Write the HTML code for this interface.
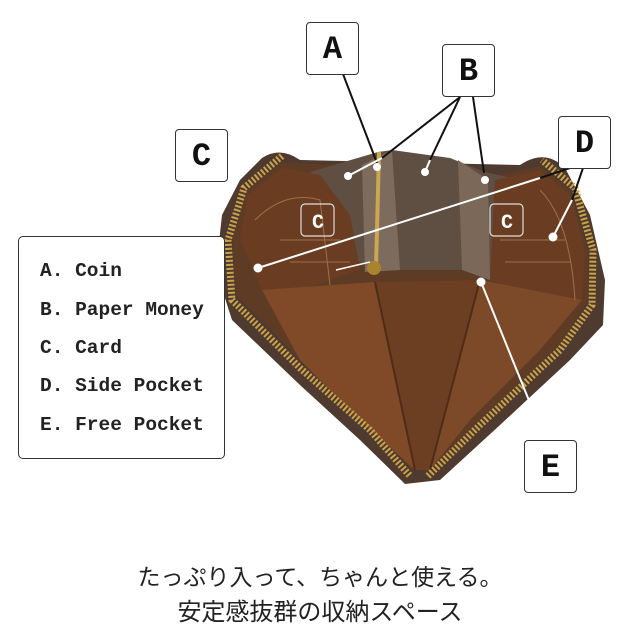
<!DOCTYPE html>
<html><head><meta charset="utf-8"><style>
body{margin:0;background:#fff;}
.wrap{position:relative;width:640px;height:640px;overflow:hidden;background:#fff;}
.box{position:absolute;background:#fff;border:1.5px solid #333;border-radius:4px;box-sizing:border-box;font-family:"Liberation Mono",monospace;font-weight:bold;font-size:32px;text-align:center;color:#111;}
.leg{position:absolute;left:18px;top:236px;width:207px;height:223px;border:1.5px solid #333;border-radius:5px;box-sizing:border-box;background:#fff;font-family:"Liberation Mono",monospace;font-weight:bold;font-size:19.5px;color:#222;}
.leg div{position:absolute;left:21px;}
.jp{position:absolute;left:0;width:640px;text-align:center;font-family:"Liberation Sans","Noto Sans CJK JP",sans-serif;font-size:23px;color:#222;}
</style></head><body><div class="wrap">
<svg width="640" height="640" style="position:absolute;left:0;top:0">
<!-- outer shell -->
<path d="M262,158 Q280,146 300,160 L520,165 Q545,148 565,168 L590,215 L605,280 L603,325 L570,360 L500,425 L440,480 L405,484 L360,440 L300,385 L232,320 L216,270 L222,215 L240,180 Z" fill="#4e3a2e"/>
<!-- inner cavity -->
<polygon points="282,162 246,192 232,240 236,295 300,360 370,425 412,470 430,470 480,420 560,345 588,300 588,250 570,190 540,166 500,175 390,160 330,165" fill="#5e3b25"/>
<!-- grey-brown central dividers -->
<polygon points="310,172 378,152 392,150 450,158 485,172 520,180 500,280 470,270 380,270 330,250" fill="#5f4e42"/>
<polygon points="362,165 392,150 400,270 365,272" fill="#7d6b5d"/>
<polygon points="458,160 488,180 490,280 462,270" fill="#7b6858"/>
<!-- left card area -->
<polygon points="248,195 282,168 320,175 350,215 360,270 300,290 262,290 240,240" fill="#6a3d22"/>
<!-- right card area -->
<polygon points="495,180 540,170 570,195 585,250 582,300 520,290 490,280" fill="#6a3d22"/>
<!-- front pockets -->
<polygon points="262,290 375,282 415,470 360,420 300,360" fill="#804a28"/>
<polygon points="375,282 480,280 430,470 415,470" fill="#6c3e22"/>
<polygon points="480,280 582,300 540,350 470,420 430,470" fill="#7d4a29"/>
<line x1="375" y1="282" x2="415" y2="470" stroke="#4e2c18" stroke-width="2"/>
<line x1="480" y1="280" x2="430" y2="470" stroke="#4e2c18" stroke-width="2"/>
<!-- stitching lines -->
<g stroke="#b07a56" stroke-width="1" fill="none" opacity="0.8">
<path d="M255 220 Q285 190 320 200 L330 285"/>
<path d="M280 240 L340 240 M290 262 L350 262"/>
<path d="M500 240 L565 240 M505 262 L570 262"/>
<path d="M540 190 Q570 220 575 300"/>
</g>
<!-- central zipper -->
<line x1="379" y1="152" x2="376" y2="268" stroke="#c9a850" stroke-width="4"/>
<circle cx="374" cy="268" r="7" fill="#a8852c"/>
<!-- gold zipper -->
<polyline points="282,156 244,188 228,240 232,300 300,368 370,430 410,476" fill="none" stroke="#c9a24a" stroke-width="7" stroke-dasharray="2 2"/>
<polyline points="428,476 480,425 560,350 592,305 593,250 575,188 542,160" fill="none" stroke="#c9a24a" stroke-width="7" stroke-dasharray="2 2"/>
<!-- connectors -->
<g stroke="#111" stroke-width="2">
<line x1="343" y1="74" x2="377" y2="163"/>
<line x1="460" y1="97" x2="382" y2="158"/>
<line x1="460" y1="97" x2="430" y2="160"/>
<line x1="473" y1="97" x2="484" y2="173"/>
<line x1="570" y1="168" x2="540" y2="178"/>
<line x1="583" y1="168" x2="572" y2="200"/>
</g>
<g stroke="#fff" stroke-width="2" fill="#fff">
<line x1="382" y1="158" x2="348" y2="176"/><circle cx="348" cy="176" r="3"/>
<line x1="430" y1="160" x2="425" y2="172"/><circle cx="425" cy="172" r="3"/>
<circle cx="485" cy="180" r="3"/><circle cx="377" cy="167" r="3"/>
<line x1="540" y1="178" x2="258" y2="268"/><circle cx="258" cy="268" r="3.5"/>
<line x1="572" y1="200" x2="553" y2="237"/><circle cx="553" cy="237" r="3.5"/>
<line x1="481" y1="282" x2="545" y2="440"/><circle cx="481" cy="282" r="3.5"/>
<line x1="336" y1="270" x2="370" y2="262" stroke-width="1.5"/>
</g>
<g fill="none" stroke="#ddd" stroke-width="1.2">
<rect x="301" y="204" width="33" height="32" rx="4"/>
<rect x="490" y="204" width="33" height="32" rx="4"/>
</g>
<g fill="#fff" font-family="Liberation Mono,monospace" font-weight="bold" font-size="20" text-anchor="middle">
<text x="318" y="228">C</text><text x="507" y="228">C</text>
</g>
</svg>
<div class="box" style="left:306px;top:22px;width:53px;height:53px;line-height:53px">A</div>
<div class="box" style="left:442px;top:44px;width:53px;height:53px;line-height:53px">B</div>
<div class="box" style="left:175px;top:129px;width:53px;height:53px;line-height:53px">C</div>
<div class="box" style="left:558px;top:116px;width:53px;height:53px;line-height:53px">D</div>
<div class="box" style="left:524px;top:440px;width:53px;height:53px;line-height:53px">E</div>
<div class="leg">
<div style="top:23px">A. Coin</div>
<div style="top:62px">B. Paper Money</div>
<div style="top:100px">C. Card</div>
<div style="top:138px">D. Side Pocket</div>
<div style="top:177px">E. Free Pocket</div>
</div>
<div class="jp" style="top:558px">たっぷり入って、ちゃんと使える。</div>
<div class="jp" style="top:592px;font-size:24px">安定感抜群の収納スペース</div>
</div></body></html>
